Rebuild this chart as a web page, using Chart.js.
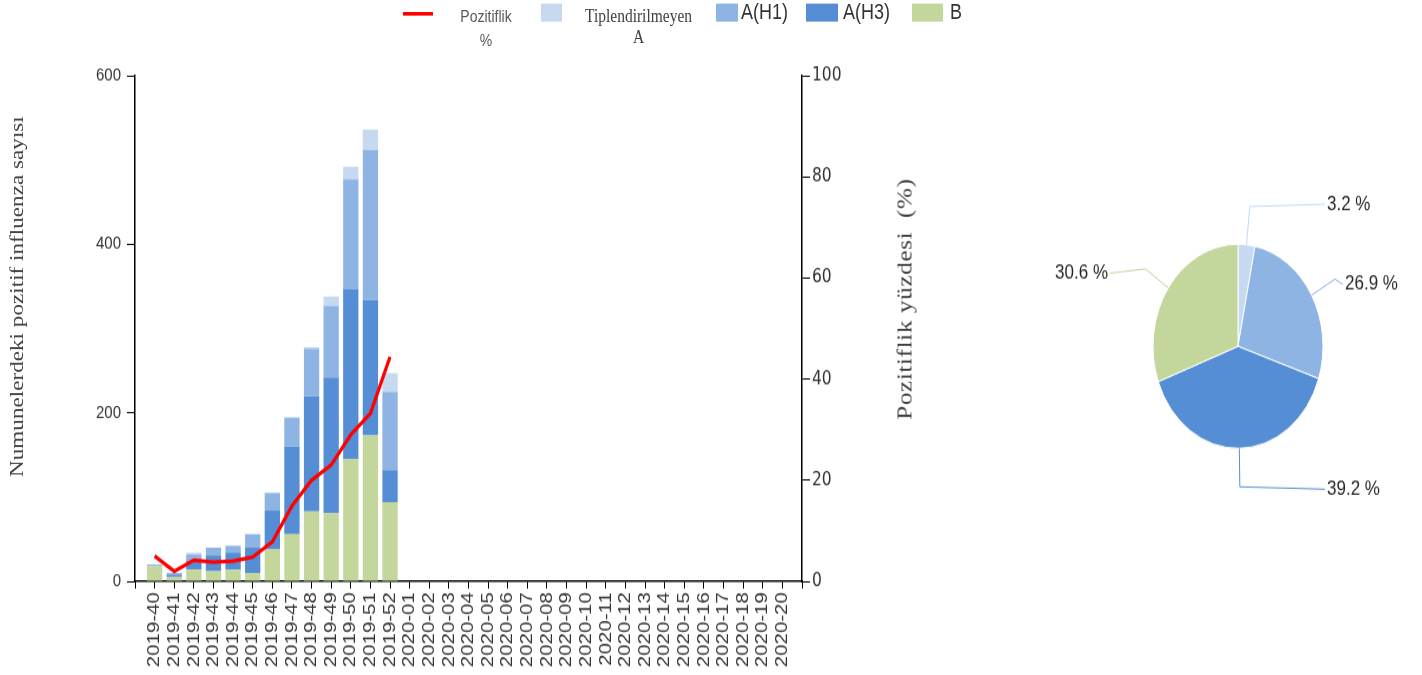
<!DOCTYPE html>
<html lang="tr">
<head>
<meta charset="utf-8">
<title>Influenza</title>
<script src="https://cdn.jsdelivr.net/npm/chart.js@4.4.1/dist/chart.umd.min.js"></script>
<style>
  html, body { margin: 0; padding: 0; background: #fff; overflow: hidden; }
  /* the original picture is stretched vertically, so the whole page is too */
  #page { position: absolute; left: 0; top: 0; width: 1422px; height: 562px; transform: scaleY(1.2011); transform-origin: 0 0; }
  #main-box { position: absolute; left: 0; top: 0; width: 1000px; height: 562px; }
  #pie-box { position: absolute; left: 1000px; top: 100px; width: 422px; height: 380px; }
  .legend-box { position: absolute; height: 14.5px; top: 3.3px; }
  .legend-text { position: absolute; white-space: nowrap; }
  .narrow { font-family: 'Liberation Sans Narrow', 'Arial Narrow', 'Liberation Sans', sans-serif; font-size: 18px; color: #333; line-height: 20px; top: 0; }
  .axis-title { position: absolute; white-space: pre; font-family: 'Liberation Serif', serif; color: #404040; transform: translate(-50%, -50%) rotate(-90deg); }
</style>
</head>
<body>
<div id="page">
  <div id="main-box"><canvas id="main-chart"></canvas></div>
  <div id="pie-box"><canvas id="pie-chart"></canvas></div>

  <!-- legend -->
  <div style="position:absolute;left:403px;top:9.5px;width:30px;height:3.3px;background:#ff0000;"></div>
  <div class="legend-text" style="left:446px;top:2.5px;width:80px;text-align:center;font-family:'Liberation Sans',sans-serif;font-size:14px;line-height:20px;color:#595959;">Pozitiflik<br>%</div>
  <div class="legend-box" style="left:541px;width:21px;background:#c6d9f1;"></div>
  <div class="legend-text" style="left:578px;top:4px;width:121px;text-align:center;font-family:'Liberation Serif',serif;font-size:15.5px;line-height:18px;color:#404040;">Tiplendirilmeyen<br>A</div>
  <div class="legend-box" style="left:716px;width:22px;background:#8eb4e3;"></div>
  <div class="legend-text narrow" style="left:741px;">A(H1)</div>
  <div class="legend-box" style="left:806px;width:32px;background:#558ed5;"></div>
  <div class="legend-text narrow" style="left:843px;">A(H3)</div>
  <div class="legend-box" style="left:912px;width:31px;background:#c3d69b;"></div>
  <div class="legend-text narrow" style="left:950px;">B</div>

  <!-- axis titles -->
  <div class="axis-title" style="left:16.5px;top:246.7px;font-size:19.3px;">Numunelerdeki pozitif influenza sayısı</div>
  <div class="axis-title" style="left:904.5px;top:249px;font-size:21px;letter-spacing:0.5px;">Pozitiflik yüzdesi  (%)</div>
</div>
<script>
(function() {
  'use strict';
  // weeks on the x axis
  const weeks = [
    '2019-40', '2019-41', '2019-42', '2019-43', '2019-44', '2019-45', '2019-46',
    '2019-47', '2019-48', '2019-49', '2019-50', '2019-51', '2019-52',
    '2020-01', '2020-02', '2020-03', '2020-04', '2020-05', '2020-06', '2020-07',
    '2020-08', '2020-09', '2020-10', '2020-11', '2020-12', '2020-13', '2020-14',
    '2020-15', '2020-16', '2020-17', '2020-18', '2020-19', '2020-20'
  ];
  // positive samples per week (only 2019-40 .. 2019-52 reported)
  const countB = [18, 5, 14, 12, 14, 10, 38, 56, 83, 81, 145, 173, 94];
  const countH3 = [0, 3, 11, 19, 20, 30, 46, 104, 137, 161, 202, 161, 38];
  const countH1 = [2, 2, 7, 9, 8, 16, 21, 34, 56, 85, 130, 178, 93];
  const countUntyped = [0, 0, 2, 0, 1, 0, 0, 1, 2, 11, 15, 24, 22];
  // positivity %
  const positivity = [5.0, 2.0, 4.2, 3.8, 4.0, 4.8, 7.8, 14.9, 20.0, 23.0, 29.0, 33.2, 44.4];
  // axis ticks
  const leftTicks = [0, 200, 400, 600];
  const rightTicks = [0, 20, 40, 60, 80, 100];
  // pie: share of each type
  const pieLabels = ['Tiplendirilmeyen A', 'A(H1)', 'A(H3)', 'B'];
  const pieValues = [3.2, 26.9, 39.2, 30.6];

  const colorUntyped = '#c6d9f1';
  const colorH1 = '#8eb4e3';
  const colorH3 = '#558ed5';
  const colorB = '#c3d69b';

  // empty slot on both ends so the bars sit on tick 1..33
  const labels = [''].concat(weeks, ['']);
  function pad(values) {
    const out = [null].concat(values);
    while (out.length < labels.length) {
      out.push(null);
    }
    return out;
  }

  const axisGrid = {
    drawOnChartArea: false,
    drawTicks: true,
    offset: false,
    tickLength: 8,
    color: '#000',
    lineWidth: 1,
  };
  const axisBorder = { display: true, color: '#000', width: 1.5 };

  function barSet(label, data, color) {
    return {
      type: 'bar',
      label: label,
      data: pad(data),
      backgroundColor: color,
      borderWidth: 0,
      yAxisID: 'y',
      order: 1,
      categoryPercentage: 1,
      barPercentage: 0.78,
    };
  }

  new Chart(document.getElementById('main-chart'), {
    type: 'bar',
    data: {
      labels: labels,
      datasets: [{
        type: 'line',
        label: 'Pozitiflik %',
        data: pad(positivity),
        borderColor: '#ff0000',
        borderWidth: 3.2,
        pointRadius: 0,
        tension: 0,
        yAxisID: 'y1',
        order: 0,
      },
        barSet('B', countB, colorB),
        barSet('A(H3)', countH3, colorH3),
        barSet('A(H1)', countH1, colorH1),
        barSet('Tiplendirilmeyen A', countUntyped, colorUntyped),
      ],
    },
    options: {
      responsive: true,
      maintainAspectRatio: false,
      animation: false,
      layout: { padding: { top: 63, left: 0, right: 0, bottom: 0 } },
      plugins: { legend: { display: false }, tooltip: { enabled: false } },
      scales: {
        x: {
          stacked: true,
          offset: false,
          grid: Object.assign({}, axisGrid, { tickLength: 6 }),
          border: axisBorder,
          ticks: {
            autoSkip: false,
            maxRotation: 90,
            minRotation: 90,
            padding: 3,
            color: '#333',
            font: { family: 'Liberation Sans', size: 17 },
          },
          afterFit: function(scale) { scale.height = 78; },
        },
        y: {
          stacked: true,
          position: 'left',
          min: leftTicks[0],
          max: leftTicks[leftTicks.length - 1],
          afterBuildTicks: function(scale) {
            scale.ticks = leftTicks.map(function(v) { return { value: v }; });
          },
          grid: axisGrid,
          border: axisBorder,
          ticks: {
            padding: 6,
            color: '#333',
            font: { family: 'Liberation Sans', size: 15 },
          },
          afterFit: function(scale) { scale.width = 135; },
        },
        y1: {
          position: 'right',
          min: rightTicks[0],
          max: rightTicks[rightTicks.length - 1],
          afterBuildTicks: function(scale) {
            scale.ticks = rightTicks.map(function(v) { return { value: v }; });
          },
          grid: axisGrid,
          border: axisBorder,
          ticks: {
            padding: 2,
            color: '#333',
            font: { family: 'DejaVu Sans', size: 15.5 },
          },
          afterFit: function(scale) { scale.width = 198; },
        },
      },
    },
  });

  // outside labels with leader lines for the pie
  const pieLabelPlugin = {
    id: 'pieLabels',
    afterDatasetsDraw: function(chart) {
      const ctx = chart.ctx;
      const meta = chart.getDatasetMeta(0);
      const ds = chart.data.datasets[0];
      ctx.save();
      ctx.font = '17px "Liberation Sans", sans-serif';
      ctx.textBaseline = 'middle';
      meta.data.forEach(function(arc, i) {
        const a = (arc.startAngle + arc.endAngle) / 2;
        const cos = Math.cos(a);
        const sin = Math.sin(a);
        const r = arc.outerRadius;
        const ext = 22 + 10 * Math.abs(sin);
        const x0 = arc.x + r * cos;
        const y0 = arc.y + r * sin;
        const x1 = arc.x + (r + ext) * cos;
        const y1 = arc.y + (r + ext) * sin;
        const right = cos >= 0;
        const lx = right ? Math.max(x1 + 10, arc.x + r + 4) : Math.min(x1 - 10, arc.x - r - 45);
        // side labels sit a little lower than the elbow
        const ly = y1 + 11 * (1 - Math.abs(sin)) + 2 * sin;
        ctx.strokeStyle = ds.backgroundColor[i];
        ctx.lineWidth = 1;
        ctx.beginPath();
        ctx.moveTo(x0, y0);
        ctx.lineTo(x1, y1);
        ctx.lineTo(right ? lx - 2 : lx + 2, ly);
        ctx.stroke();
        ctx.fillStyle = '#262626';
        ctx.textAlign = right ? 'left' : 'right';
        ctx.fillText(ds.data[i].toFixed(1) + ' %', lx, ly);
      });
      ctx.restore();
    },
  };

  new Chart(document.getElementById('pie-chart'), {
    type: 'pie',
    data: {
      labels: pieLabels,
      datasets: [{
        data: pieValues,
        backgroundColor: [colorUntyped, colorH1, colorH3, colorB],
        borderColor: '#fff',
        borderWidth: 1,
        radius: 85,
      }],
    },
    options: {
      responsive: true,
      maintainAspectRatio: false,
      animation: false,
      layout: { padding: { left: 153, right: 99, top: 103.3, bottom: 106.7 } },
      plugins: { legend: { display: false }, tooltip: { enabled: false } },
    },
    plugins: [pieLabelPlugin],
  });
})();
</script>
</body>
</html>
